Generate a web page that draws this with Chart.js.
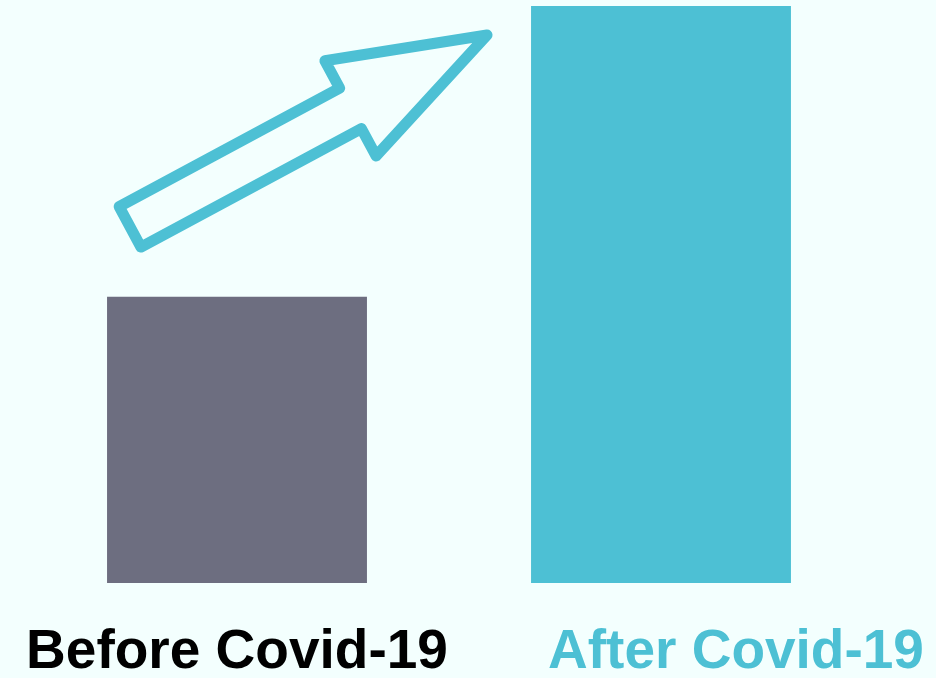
<!DOCTYPE html>
<html>
<head>
<meta charset="utf-8">
<script src="https://cdn.jsdelivr.net/npm/chart.js@4/dist/chart.umd.min.js"></script>
<style>
  html, body { margin: 0; padding: 0; background: #f3fffe; }
  #wrap { width: 936px; height: 678px; }
</style>
</head>
<body>
<div id="wrap"><canvas id="covid"></canvas></div>
<script>
// Data
var categories = ['Before Covid-19', 'After Covid-19'];
var values = [49.6, 100];
var barColors = ['#6d6e80', '#4dc0d4'];
var labelColors = ['#000000', '#4dc0d4'];

// draws the category labels under the bars (the right one sits off-centre in the original)
var labelOffsets = [0, 75];
var bottomLabels = {
  id: 'bottomLabels',
  afterDraw: function(chart) {
    var ctx = chart.ctx;
    var meta = chart.getDatasetMeta(0);
    ctx.save();
    ctx.font = 'bold 55px "Liberation Sans", Arial, sans-serif';
    ctx.textAlign = 'center';
    ctx.textBaseline = 'alphabetic';
    for (var i = 0; i < categories.length; i++) {
      ctx.fillStyle = labelColors[i];
      ctx.fillText(categories[i], meta.data[i].x + labelOffsets[i], chart.chartArea.bottom + 85);
    }
    ctx.restore();
  }
};

// outlined arrow going from above the first bar to the top of the second
var growthArrow = {
  id: 'growthArrow',
  afterDatasetsDraw: function(chart) {
    var meta = chart.getDatasetMeta(0);
    var a = meta.data[0], b = meta.data[1];
    var tail = { x: a.x - a.width / 2 + 23, y: a.y - 70 };
    var tip = { x: b.x - b.width / 2 - 44, y: b.y + 29 };
    var dx = tip.x - tail.x, dy = tip.y - tail.y;
    var len = Math.sqrt(dx * dx + dy * dy);
    var ux = dx / len, uy = dy / len;
    var nx = -uy, ny = ux;
    var shaft = 23, headHalf = 54, headLen = 155;
    var bx = tip.x - ux * headLen, by = tip.y - uy * headLen;
    var pts = [
      [tail.x + nx * shaft, tail.y + ny * shaft],
      [bx + nx * shaft, by + ny * shaft],
      [bx + nx * headHalf, by + ny * headHalf],
      [tip.x, tip.y],
      [bx - nx * headHalf, by - ny * headHalf],
      [bx - nx * shaft, by - ny * shaft],
      [tail.x - nx * shaft, tail.y - ny * shaft]
    ];
    var ctx = chart.ctx;
    ctx.save();
    ctx.beginPath();
    ctx.moveTo(pts[0][0], pts[0][1]);
    for (var i = 1; i < pts.length; i++) ctx.lineTo(pts[i][0], pts[i][1]);
    ctx.closePath();
    ctx.lineWidth = 11;
    ctx.lineJoin = 'round';
    ctx.strokeStyle = '#4dc0d4';
    ctx.stroke();
    ctx.restore();
  }
};

var ctx = document.getElementById('covid').getContext('2d');
var chart = new Chart(ctx, {
  type: 'bar',
  data: {
    labels: categories,
    datasets: [{
      data: values,
      backgroundColor: barColors,
      borderWidth: 0,
      barPercentage: 0.613,
      categoryPercentage: 1
    }]
  },
  options: {
    responsive: true,
    maintainAspectRatio: false,
    animation: false,
    layout: { padding: { top: 6, left: 25, right: 63, bottom: 95 } },
    plugins: {
      legend: { display: false },
      tooltip: { enabled: false }
    },
    scales: {
      x: { display: false },
      y: { display: false, min: 0, max: 100 }
    }
  },
  plugins: [growthArrow, bottomLabels]
});
</script>
</body>
</html>
